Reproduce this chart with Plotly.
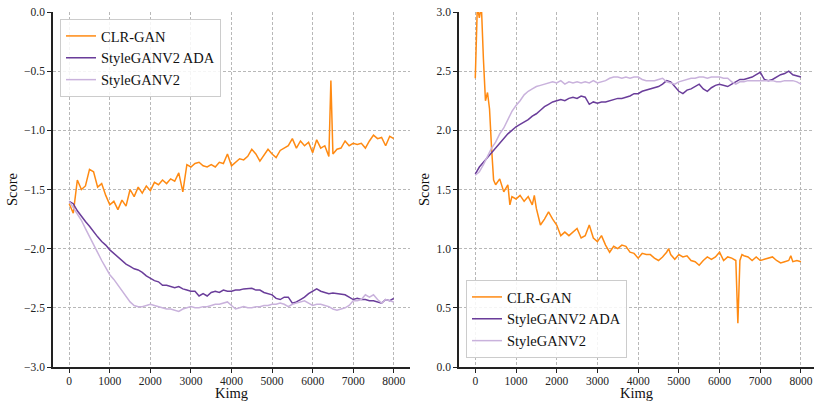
import plotly.graph_objects as go

# ---------------- data ----------------
kimg = list(range(0, 8001, 100))

# Left panel
left_clr_kimg = list(range(0, 6401, 100)) + [6450] + list(range(6500, 8001, 100))
left_clr = [-1.62, -1.70, -1.42, -1.50, -1.47, -1.33, -1.35, -1.48, -1.45, -1.55,
            -1.63, -1.60, -1.67, -1.59, -1.64, -1.50, -1.56, -1.48, -1.53, -1.47,
            -1.51, -1.44, -1.46, -1.42, -1.45, -1.41, -1.43, -1.36, -1.52, -1.29,
            -1.31, -1.28, -1.27, -1.30, -1.31, -1.29, -1.31, -1.27, -1.28, -1.20,
            -1.30, -1.27, -1.24, -1.25, -1.22, -1.16, -1.20, -1.26, -1.21, -1.16,
            -1.20, -1.23, -1.17, -1.15, -1.13, -1.07, -1.15, -1.09, -1.13, -1.10,
            -1.19, -1.08, -1.15, -1.13, -1.22, -0.58, -1.20, -1.16, -1.15, -1.09,
            -1.13, -1.11, -1.12, -1.11, -1.15, -1.09, -1.04, -1.07, -1.06, -1.13,
            -1.05, -1.07]
left_ada = [-1.60, -1.62, -1.68, -1.73, -1.77, -1.81, -1.86, -1.90, -1.94, -1.97,
            -2.01, -2.04, -2.07, -2.10, -2.13, -2.15, -2.17, -2.18, -2.20, -2.23,
            -2.25, -2.27, -2.28, -2.31, -2.31, -2.32, -2.33, -2.32, -2.34, -2.35,
            -2.36, -2.36, -2.40, -2.38, -2.40, -2.37, -2.36, -2.37, -2.35, -2.36,
            -2.36, -2.35, -2.35, -2.34, -2.34, -2.335, -2.35, -2.35, -2.37, -2.38,
            -2.39, -2.42, -2.43, -2.41, -2.41, -2.46, -2.45, -2.43, -2.41, -2.38,
            -2.36, -2.34, -2.36, -2.37, -2.38, -2.375, -2.38, -2.38, -2.39, -2.41,
            -2.43, -2.42, -2.43, -2.43, -2.44, -2.44, -2.45, -2.46, -2.43, -2.44,
            -2.42]
left_v2 = [-1.60, -1.65, -1.70, -1.76, -1.83, -1.90, -1.97, -2.04, -2.10, -2.16,
           -2.22, -2.26, -2.31, -2.36, -2.41, -2.45, -2.48, -2.49, -2.49, -2.48,
           -2.47, -2.48, -2.49, -2.50, -2.51, -2.51, -2.52, -2.53, -2.51, -2.50,
           -2.49, -2.50, -2.50, -2.49, -2.49, -2.48, -2.47, -2.47, -2.46, -2.45,
           -2.48, -2.51, -2.50, -2.49, -2.50, -2.50, -2.49, -2.49, -2.48, -2.48,
           -2.47, -2.47, -2.46, -2.47, -2.49, -2.47, -2.46, -2.45, -2.44, -2.46,
           -2.48, -2.47, -2.47, -2.48, -2.49, -2.51, -2.52, -2.51, -2.50, -2.48,
           -2.44, -2.44, -2.43, -2.39, -2.41, -2.39, -2.43, -2.46, -2.43, -2.44,
           -2.45]

# Right panel
right_clr_kimg = [0, 50, 100, 150, 200, 250, 300, 350, 400, 450, 500, 600, 700, 800, 850, 900,
                  1000, 1100, 1200, 1300, 1400, 1450, 1500, 1600, 1700, 1800, 1900,
                  2000, 2100, 2200, 2300, 2400, 2500, 2600, 2700, 2800, 2900,
                  3000, 3100, 3200, 3300, 3400, 3500, 3600, 3700, 3800, 3900,
                  4000, 4100, 4200, 4300, 4400, 4500, 4600, 4700, 4750, 4800, 4900,
                  5000, 5100, 5200, 5300, 5400, 5500, 5600, 5700, 5800, 5900,
                  6000, 6100, 6200, 6300, 6400, 6450, 6500, 6550, 6600, 6700, 6800, 6900,
                  7000, 7100, 7200, 7300, 7400, 7500, 7600, 7700, 7750, 7800, 7900, 8000]
right_clr = [2.44, 3.05, 2.95, 3.05, 2.60, 2.25, 2.32, 2.18, 1.85, 1.58, 1.54, 1.59, 1.48, 1.54, 1.37, 1.44,
             1.42, 1.45, 1.40, 1.44, 1.37, 1.45, 1.34, 1.20, 1.25, 1.31, 1.25,
             1.20, 1.11, 1.14, 1.11, 1.14, 1.17, 1.09, 1.11, 1.20, 1.09,
             1.06, 1.11, 1.03, 0.97, 1.02, 1.00, 1.03, 1.02, 0.97, 0.96,
             0.92, 0.96, 0.95, 0.95, 0.92, 0.90, 0.93, 0.97, 1.00, 0.95, 0.91,
             0.95, 0.93, 0.94, 0.90, 0.89, 0.86, 0.90, 0.93, 0.91, 0.93,
             0.97, 0.90, 0.93, 0.92, 0.90, 0.37, 0.90, 0.95, 0.94, 0.93, 0.90, 0.93,
             0.90, 0.91, 0.92, 0.93, 0.90, 0.88, 0.89, 0.90, 0.94, 0.89, 0.90, 0.89]
right_ada = [1.63, 1.69, 1.73, 1.77, 1.81, 1.85, 1.89, 1.93, 1.97, 2.00,
             2.03, 2.05, 2.07, 2.09, 2.12, 2.14, 2.17, 2.20, 2.22, 2.24,
             2.25, 2.26, 2.25, 2.27, 2.28, 2.27, 2.29, 2.28, 2.22, 2.24,
             2.23, 2.24, 2.24, 2.25, 2.26, 2.27, 2.27, 2.28, 2.29, 2.31,
             2.31, 2.33, 2.34, 2.35, 2.36, 2.37, 2.39, 2.42, 2.41, 2.37,
             2.33, 2.31, 2.34, 2.35, 2.37, 2.39, 2.35, 2.33, 2.36, 2.38,
             2.39, 2.38, 2.37, 2.39, 2.41, 2.43, 2.43, 2.44, 2.45, 2.47,
             2.49, 2.43, 2.42, 2.43, 2.45, 2.47, 2.48, 2.50, 2.47, 2.46,
             2.45]
right_v2 = [1.62, 1.65, 1.71, 1.78, 1.85, 1.90, 1.97, 2.02, 2.09, 2.16,
            2.21, 2.25, 2.30, 2.33, 2.35, 2.37, 2.38, 2.39, 2.40, 2.41,
            2.40, 2.42, 2.39, 2.41, 2.40, 2.41, 2.40, 2.41, 2.40, 2.42,
            2.40, 2.41, 2.42, 2.44, 2.45, 2.45, 2.44, 2.45, 2.44, 2.45,
            2.45, 2.43, 2.42, 2.42, 2.42, 2.43, 2.44, 2.41, 2.40, 2.39,
            2.41, 2.42, 2.43, 2.44, 2.44, 2.45, 2.45, 2.44, 2.45, 2.45,
            2.45, 2.44, 2.44, 2.41, 2.39, 2.41, 2.41, 2.42, 2.42, 2.42,
            2.42, 2.42, 2.42, 2.42, 2.41, 2.41, 2.42, 2.42, 2.42, 2.41,
            2.39]

series_names = ["CLR-GAN", "StyleGANV2 ADA", "StyleGANV2"]
series_colors = ["#ff8a12", "#6a3d9a", "#c9b2dc"]

x_ticks = [0, 1000, 2000, 3000, 4000, 5000, 6000, 7000, 8000]
left_y_ticks = [-3.0, -2.5, -2.0, -1.5, -1.0, -0.5, 0.0]
right_y_ticks = [0.0, 0.5, 1.0, 1.5, 2.0, 2.5, 3.0]

# ---------------- figure ----------------
FONT = "Liberation Serif"
fig = go.Figure()

left_data = [(left_clr_kimg, left_clr), (kimg, left_ada), (kimg, left_v2)]
right_data = [(right_clr_kimg, right_clr), (kimg, right_ada), (kimg, right_v2)]

for (xs, ys), name, col in zip(left_data, series_names, series_colors):
    fig.add_trace(go.Scatter(x=xs, y=ys, mode="lines", name=name,
                             line=dict(color=col, width=1.5),
                             xaxis="x", yaxis="y", legend="legend"))
for (xs, ys), name, col in zip(right_data, series_names, series_colors):
    fig.add_trace(go.Scatter(x=xs, y=ys, mode="lines", name=name,
                             line=dict(color=col, width=1.5),
                             xaxis="x2", yaxis="y2", legend="legend2"))

W, H = 814, 401
ml, mr, mt, mb = 53, 0, 12, 34
pw = W - ml - mr
ph = H - mt - mb

def px_x(p):
    return (p - ml) / pw

def px_y(p):
    return 1 - (p - mt) / ph

axis_common = dict(
    showgrid=True, gridcolor="#b8b8b8", gridwidth=0.8, griddash="3px,2px",
    zeroline=False, showline=True, linecolor="#222222", linewidth=1.6,
    ticks="outside", ticklen=4, tickwidth=1, tickcolor="#222222",
    tickfont=dict(family=FONT, size=11.5, color="#222222"),
    title_font=dict(family=FONT, size=14.5, color="#111111"),
)

xaxis_extra = dict(ticklabelstandoff=-2)

fig.update_layout(
    width=W, height=H,
    margin=dict(l=ml, r=mr, t=mt, b=mb, autoexpand=False),
    paper_bgcolor="white", plot_bgcolor="white",
    font=dict(family=FONT, color="#111111"),
    xaxis=dict(domain=[0, px_x(410)], range=[-400, 8400], tickvals=x_ticks,
               anchor="y", title=dict(text="Kimg", standoff=5), **axis_common, **xaxis_extra),
    yaxis=dict(domain=[0, 1], range=[-3.0, 0.0], tickvals=left_y_ticks, tickformat=".1f",
               anchor="x", title=dict(text="Score", standoff=3), **axis_common),
    xaxis2=dict(domain=[px_x(459), 1], range=[-400, 8320], tickvals=x_ticks,
                anchor="y2", title=dict(text="Kimg", standoff=5), **axis_common, **xaxis_extra),
    yaxis2=dict(domain=[0, 1], range=[0.0, 3.0], tickvals=right_y_ticks, tickformat=".1f",
                anchor="x2", title=dict(text="Score", standoff=3), **axis_common),
    legend=dict(x=px_x(60), y=px_y(19), xanchor="left", yanchor="top",
                bgcolor="rgba(255,255,255,0.85)", bordercolor="#cccccc", borderwidth=1,
                font=dict(family=FONT, size=14.5, color="#111111"),
                tracegroupgap=0, itemwidth=30),
    legend2=dict(x=px_x(466), y=px_y(358), xanchor="left", yanchor="bottom",
                 bgcolor="rgba(255,255,255,0.85)", bordercolor="#cccccc", borderwidth=1,
                 font=dict(family=FONT, size=14.5, color="#111111"),
                 tracegroupgap=0, itemwidth=30),
    showlegend=True,
)

fig.write_html("out.html", config={"displayModeBar": False},
               post_script="document.body.style.margin='0';")
